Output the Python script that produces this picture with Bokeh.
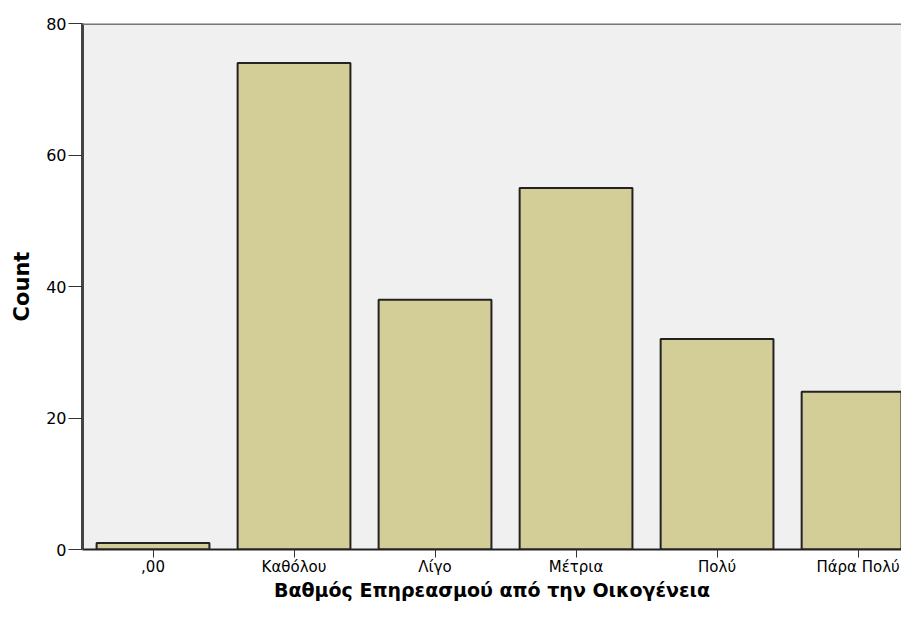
from bokeh.plotting import figure
from bokeh.models import Range1d, FixedTicker, Span
from bokeh.embed import file_html
from bokeh.resources import INLINE

categories = [",00", "Καθόλου", "Λίγο", "Μέτρια", "Πολύ", "Πάρα Πολύ"]
counts = [1, 74, 38, 55, 32, 24]
y_ticks = [0, 20, 40, 60, 80]
x_title = "Βαθμός Επηρεασμού από την Οικογένεια"
y_title = "Count"

xs = list(range(len(categories)))

p = figure(width=901, height=603, output_backend="svg", toolbar_location=None,
           x_range=Range1d(-0.5, 5.308), y_range=Range1d(0, 80),
           min_border_left=82, min_border_top=23, min_border_bottom=48, min_border_right=0)

p.background_fill_color = "#F0F0F0"
p.border_fill_color = "white"
p.outline_line_color = None
p.grid.visible = False

p.vbar(x=xs, top=counts, width=0.8, bottom=0, fill_color="#D3CE97",
       line_color="#222222", line_width=2)

p.add_layout(Span(location=80, dimension="width", line_color="#777777", line_width=3))

# y axis
ya = p.yaxis[0]
ya.ticker = FixedTicker(ticks=y_ticks)
ya.axis_line_color = "#444444"
ya.axis_line_width = 3
ya.major_tick_line_color = "#333333"
ya.major_tick_out = 14
ya.major_tick_in = 0
ya.minor_tick_line_color = None
ya.major_label_standoff = 2
ya.major_label_text_font = "DejaVu Sans"
ya.major_label_text_font_size = "16px"
ya.major_label_text_color = "black"
ya.axis_label = y_title
ya.axis_label_text_font = "DejaVu Sans"
ya.axis_label_text_font_style = "bold"
ya.axis_label_text_font_size = "21px"
ya.axis_label_text_color = "black"
ya.axis_label_standoff = 9

# x axis
xa = p.xaxis[0]
xa.ticker = FixedTicker(ticks=xs)
xa.major_label_overrides = {i: c for i, c in zip(xs, categories)}
xa.axis_line_color = "#222222"
xa.axis_line_width = 2
xa.major_tick_line_color = "#333333"
xa.major_tick_out = 8
xa.major_tick_in = 0
xa.minor_tick_line_color = None
xa.major_label_standoff = 0
xa.major_label_text_font = "DejaVu Sans"
xa.major_label_text_font_size = "15px"
xa.major_label_text_color = "black"
xa.axis_label = x_title
xa.axis_label_text_font = "DejaVu Sans"
xa.axis_label_text_font_style = "bold"
xa.axis_label_text_font_size = "19px"
xa.axis_label_text_color = "black"
xa.axis_label_standoff = 0

open("out.html", "w").write(file_html(p, INLINE))
